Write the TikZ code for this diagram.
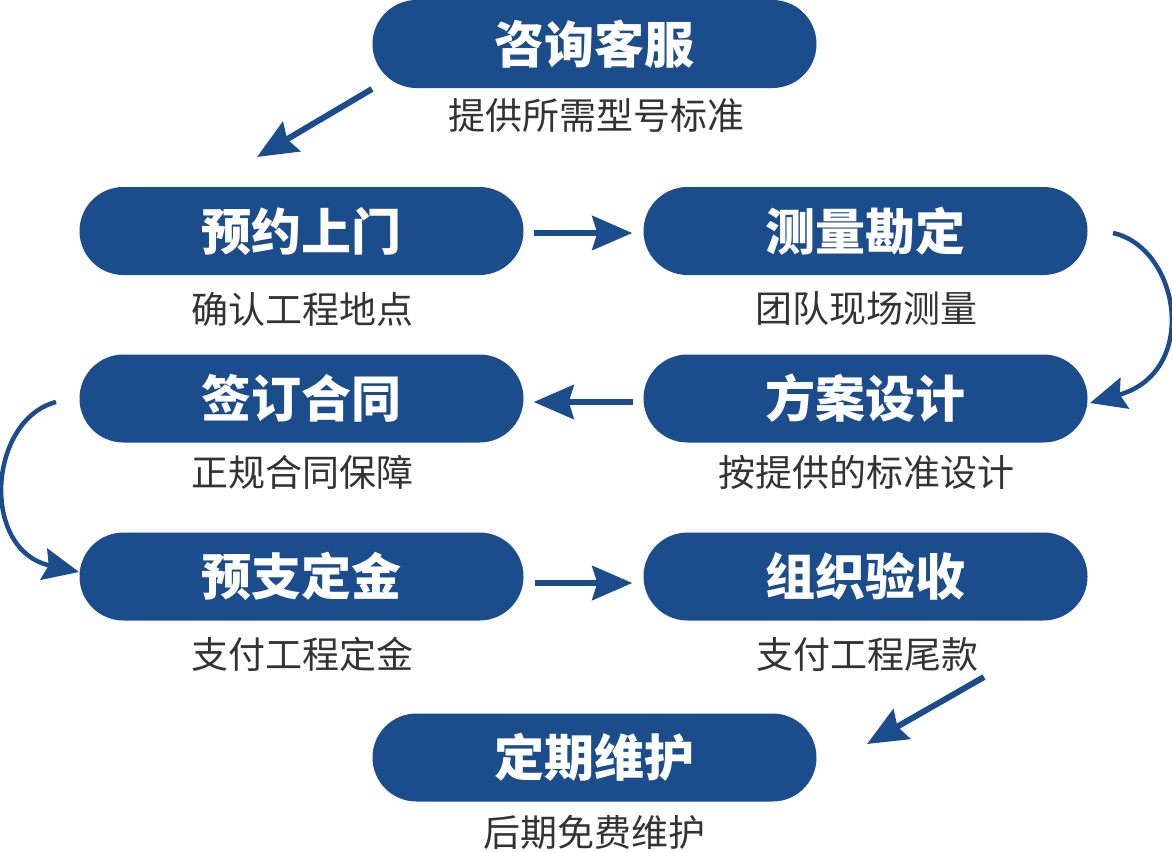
\documentclass[tikz,border=0pt]{standalone}
\usepackage{fontspec}
\newfontfamily\cjk{Noto Sans CJK SC}
\usetikzlibrary{arrows.meta}
\definecolor{boxblue}{HTML}{1B4C8C}
\definecolor{subgray}{HTML}{333333}
\tikzset{
  stepbox/.style={rectangle, rounded corners=44pt, fill=boxblue, draw=none,
    minimum width=444pt, minimum height=88pt, inner sep=0pt,
    text=white, font=\cjk\bfseries\fontsize{50}{52}\selectfont},
  subtext/.style={inner sep=0pt, text=subgray, font=\cjk\fontsize{37}{39}\selectfont},
  flow/.style={draw=boxblue, line width=6pt,
    -{Stealth[length=40pt, width=34pt, inset=5pt]}},
  curveflow/.style={draw=boxblue, line width=4.5pt,
    -{Stealth[length=36pt, width=32pt, inset=5pt]}}
}
\begin{document}
\begin{tikzpicture}[x=1pt,y=-1pt]
\useasboundingbox (0,0) rectangle (1172,851);
% boxes
\node[stepbox] (a) at (594.5,44) {咨询客服};
\node[stepbox] (b) at (301.5,231) {预约上门};
\node[stepbox] (c) at (865.5,231) {测量勘定};
\node[stepbox] (d) at (865.5,398.5) {方案设计};
\node[stepbox] (e) at (301.5,398.5) {签订合同};
\node[stepbox] (f) at (301.5,576.5) {预支定金};
\node[stepbox] (g) at (865.5,576.5) {组织验收};
\node[stepbox] (h) at (594.5,757.5) {定期维护};
% sub texts
\node[subtext] (as) at (596,115) {提供所需型号标准};
\node[subtext] (bs) at (302,309) {确认工程地点};
\node[subtext] (cs) at (866,309) {团队现场测量};
\node[subtext] (ds) at (866,472) {按提供的标准设计};
\node[subtext] (es) at (302,472) {正规合同保障};
\node[subtext] (fs) at (302,654) {支付工程定金};
\node[subtext] (gs) at (867,654) {支付工程尾款};
\node[subtext] (hs) at (594,832) {后期免费维护};
% connector end points
\coordinate (a1) at (372,89);
\coordinate (b0) at (257,157);
\coordinate (c1) at (1113,233);
\coordinate (d0) at (1090,403);
\coordinate (e1) at (56,402);
\coordinate (f0) at (79,572);
\coordinate (g1) at (984,677);
\coordinate (h0) at (867,744);
% connectors
\draw[flow] (a1) -- (b0);
\draw[flow] ([xshift=10pt]b.east |- 0,233) -- ([xshift=-11pt]c.west |- 0,233);
\draw[curveflow] (c1) .. controls (1180,248) and (1200,372) .. (d0);
\draw[flow] ([xshift=-10pt]d.west |- 0,402) -- ([xshift=10pt]e.east |- 0,402);
\draw[curveflow] (e1) .. controls (-12,420) and (-20,550) .. (f0);
\draw[flow] ([xshift=11pt]f.east |- 0,583) -- ([xshift=-11pt]g.west |- 0,583);
\draw[flow] (g1) -- (h0);
\end{tikzpicture}
\end{document}
